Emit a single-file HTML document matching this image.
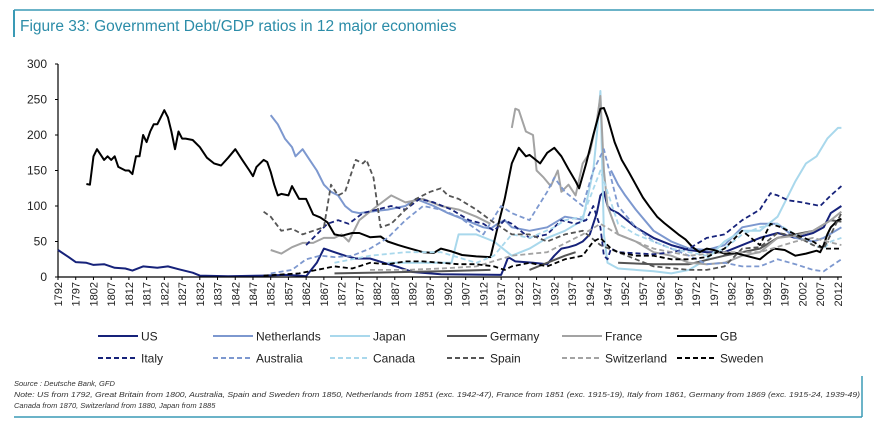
<!DOCTYPE html>
<html><head><meta charset="utf-8"><style>
body{margin:0;background:#fff;width:874px;height:427px;overflow:hidden;font-family:"Liberation Sans",sans-serif}
</style></head><body>
<svg id="c" width="874" height="427" xmlns="http://www.w3.org/2000/svg">
<line x1="14" y1="10" x2="874" y2="10" stroke="#3a9ab5" stroke-width="1.5"/>
<line x1="14" y1="10" x2="14" y2="37" stroke="#3a9ab5" stroke-width="2"/>
<text x="20" y="31" font-size="15.5" fill="#2b8ca8">Figure 33: Government Debt/GDP ratios in 12 major economies</text>
<g id="plot"></g>
<g id="legend"></g>
<text x="14" y="386" font-size="7.5" font-style="italic" fill="#333">Source : Deutsche Bank, GFD</text>
<text x="14" y="397" font-size="7.5" font-style="italic" fill="#333" textLength="846" lengthAdjust="spacingAndGlyphs">Note: US from 1792, Great Britain from 1800, Australia, Spain and Sweden from 1850, Netherlands from 1851 (exc. 1942-47), France from 1851 (exc. 1915-19), Italy from 1861, Germany from 1869 (exc. 1915-24, 1939-49)</text>
<text x="14" y="408" font-size="7.5" font-style="italic" fill="#333">Canada from 1870, Switzerland from 1880, Japan from 1885</text>
<line x1="862" y1="376" x2="862" y2="417" stroke="#3a9ab5" stroke-width="1.5"/>
<line x1="14" y1="417" x2="862" y2="417" stroke="#3a9ab5" stroke-width="1.5"/>
</svg>
<script>
const yTicks=[0,50,100,150,200,250,300];
const usYears=[1792,1795,1797,1800,1802,1805,1808,1811,1813,1816,1820,1823,1826,1830,1832,1840,1850,1856,1860,1862,1865,1867,1870,1873,1876,1880,1884,1888,1892,1900,1917,1918,1919,1921,1926,1930,1932,1934,1936,1938,1940,1942,1944,1945,1946,1947,1948,1950,1955,1960,1965,1970,1975,1980,1985,1990,1995,2000,2005,2008,2010,2013];
const usVals=[38,28,21,20,17,18,13,12,9,15,13,15,11,6,2,1,2,3,2,1,20,40,35,30,26,26,20,14,7,4,3,15,28,22,20,18,30,40,42,45,50,60,90,115,120,100,95,90,70,55,45,38,35,35,45,55,62,55,62,70,90,100];
const nlYears=[1852,1854,1856,1858,1859,1861,1863,1865,1867,1869,1871,1873,1875,1877,1880,1885,1890,1893,1898,1902,1907,1912,1914,1916,1918,1920,1925,1930,1935,1941,1942,1948,1950,1952,1955,1960,1965,1970,1975,1980,1985,1990,1995,2000,2005,2008,2013];
const nlVals=[228,215,195,183,170,180,165,150,130,120,115,100,92,90,92,95,100,110,100,90,80,70,68,75,80,70,65,70,85,80,null,150,130,115,95,65,50,40,38,45,70,75,75,55,50,55,70];
const jpYears=[1885,1895,1903,1905,1910,1915,1920,1925,1930,1935,1940,1943,1944,1945,1946,1947,1950,1960,1965,1970,1975,1980,1985,1990,1995,1998,2000,2003,2006,2009,2012,2013];
const jpVals=[20,20,20,60,60,50,30,40,55,65,80,150,200,262,60,20,12,8,5,10,25,50,65,65,85,115,135,160,170,195,210,210];
const deYears=[1870,1900,1914,1915,1925,1930,1935,1938,1939,1950,1960,1970,1980,1990,1995,2000,2005,2010,2013];
const deVals=[5,8,10,null,10,20,30,35,null,20,18,18,30,40,55,60,65,80,78];
const frYears=[1852,1855,1858,1861,1864,1867,1870,1872,1874,1877,1882,1886,1890,1895,1900,1905,1910,1914,1915,1920,1921,1922,1924,1926,1927,1929,1931,1933,1934,1936,1938,1940,1942,1944,1945,1946,1947,1950,1955,1960,1965,1970,1975,1980,1985,1990,1995,2000,2005,2010,2013];
const frVals=[38,33,42,48,48,55,55,60,50,80,100,115,105,110,100,95,85,75,null,210,237,235,205,200,150,140,128,150,120,130,115,160,175,220,255,150,100,60,50,35,30,20,18,20,30,35,55,58,65,80,92];
const gbYears=[1800,1801,1802,1803,1805,1806,1807,1808,1809,1811,1812,1813,1814,1815,1816,1817,1818,1819,1820,1821,1822,1823,1824,1825,1826,1827,1828,1830,1832,1834,1836,1838,1840,1842,1844,1846,1847,1848,1850,1851,1852,1853,1854,1855,1857,1858,1860,1862,1864,1866,1868,1870,1872,1875,1877,1880,1883,1885,1888,1890,1895,1898,1900,1903,1906,1910,1914,1916,1918,1920,1922,1924,1925,1928,1930,1932,1934,1936,1938,1939,1941,1943,1945,1946,1947,1949,1951,1953,1955,1957,1959,1961,1963,1965,1967,1969,1971,1973,1975,1977,1980,1983,1986,1990,1992,1994,1997,2000,2003,2006,2007,2008,2009,2010,2012,2013];
const gbVals=[131,130,170,180,165,170,165,170,155,150,150,145,170,170,200,190,205,215,215,225,235,225,205,180,205,195,195,193,183,168,160,157,168,180,165,150,142,155,165,162,148,130,115,117,115,128,110,110,88,84,77,60,58,62,62,56,57,50,45,42,35,34,40,36,31,29,28,70,110,160,182,170,172,160,175,182,170,152,135,125,160,200,237,238,225,190,165,148,130,112,98,85,76,68,60,53,42,35,40,38,33,34,30,25,33,40,38,30,33,37,35,45,60,70,80,82];
const itYears=[1862,1865,1868,1871,1874,1878,1882,1886,1890,1894,1898,1903,1908,1912,1915,1918,1920,1925,1930,1934,1938,1941,1943,1945,1946,1947,1948,1950,1960,1965,1970,1975,1980,1985,1990,1993,1995,1998,2002,2007,2010,2013];
const itVals=[45,60,75,80,75,90,95,100,95,110,105,95,80,75,65,80,75,55,60,80,75,80,100,70,30,25,40,35,32,35,40,55,60,80,95,118,115,108,105,100,115,128];
const auYears=[1852,1858,1862,1866,1870,1875,1880,1885,1890,1895,1900,1905,1912,1917,1920,1925,1930,1932,1935,1940,1943,1946,1950,1955,1960,1965,1970,1975,1980,1985,1990,1995,2000,2005,2008,2010,2013];
const auVals=[5,10,25,30,28,30,40,55,80,100,95,85,60,100,90,80,120,140,120,100,150,180,100,70,50,40,30,18,20,15,15,25,18,10,8,15,25];
const caYears=[1870,1880,1890,1900,1910,1915,1920,1925,1932,1935,1940,1945,1950,1955,1960,1965,1970,1975,1980,1985,1990,1995,2000,2005,2008,2010,2013];
const caVals=[20,30,35,35,20,30,60,55,70,80,85,150,75,60,50,40,35,30,40,60,70,75,60,45,40,50,55];
const esYears=[1850,1852,1855,1858,1861,1864,1867,1869,1871,1873,1876,1878,1879,1881,1883,1886,1890,1893,1897,1900,1902,1905,1910,1914,1920,1925,1930,1935,1940,1945,1950,1960,1970,1975,1980,1985,1990,1995,2000,2005,2008,2010,2013];
const esVals=[92,85,65,68,60,65,70,130,115,120,165,160,165,140,70,75,95,110,120,125,115,110,95,80,60,60,50,60,65,45,35,15,10,10,15,40,42,62,58,45,40,60,90];
const chYears=[1880,1890,1900,1910,1920,1930,1940,1945,1950,1960,1970,1980,1990,2000,2005,2013];
const chVals=[10,10,12,15,30,35,60,75,60,40,30,35,35,50,55,45];
const seYears=[1850,1860,1865,1870,1875,1880,1885,1890,1895,1900,1905,1910,1915,1918,1920,1925,1930,1935,1940,1943,1945,1948,1950,1955,1960,1965,1970,1975,1980,1985,1990,1993,1996,2000,2005,2008,2013];
const seVals=[2,5,10,15,12,20,18,22,22,20,18,18,15,10,15,20,15,25,30,50,55,40,35,30,30,25,25,28,40,65,45,75,70,60,50,40,40];

const seriesNames=["US","Netherlands","Japan","Germany","France","GB","Italy","Australia","Canada","Spain","Switzerland","Sweden"];
const seriesYears=[usYears,nlYears,jpYears,deYears,frYears,gbYears,itYears,auYears,caYears,esYears,chYears,seYears];
const seriesVals=[usVals,nlVals,jpVals,deVals,frVals,gbVals,itVals,auVals,caVals,esVals,chVals,seVals];
const colors=["#16227a","#7d98cf","#a9d8ec","#555555","#a3a3a3","#000000","#16227a","#7d98cf","#a9d8ec","#555555","#a3a3a3","#000000"];

const X0=58,Y0=277,PX=3.545,PY=0.71;
const xs=yr=>X0+(yr-1792)*PX;
const ys=v=>Y0-v*PY;
const NS="http://www.w3.org/2000/svg";
const plot=document.getElementById('plot');
function mk(t,a,p){const e=document.createElementNS(NS,t);for(const k in a)e.setAttribute(k,a[k]);(p||plot).appendChild(e);return e;}

yTicks.forEach(v=>{
  const t=mk('text',{x:47,y:ys(v)+4,'font-size':12,'text-anchor':'end',fill:'#222'});
  t.textContent=v;
  
  
  const l=mk('line',{x1:X0-3,x2:X0,y1:ys(v),y2:ys(v),stroke:'#000'});
  
  
});
const ya=mk('line',{x1:X0,x2:X0,y1:ys(300),y2:Y0,stroke:'#000','stroke-width':1.2});



for(let i=0;i<seriesNames.length;i++){
  let d='',pen=false;
  const yr=seriesYears[i],vv=seriesVals[i];
  for(let j=0;j<yr.length;j++){
    if(vv[j]===null){pen=false;continue;}
    d+=(pen?'L':'M')+xs(yr[j]).toFixed(1)+','+ys(vv[j]).toFixed(1);
    pen=true;
  }
  const p=mk('path',{d:d,fill:'none',stroke:colors[i],'stroke-width':i>=6?1.8:2,'stroke-linejoin':'round'});
  if(i>=6)p.setAttribute('stroke-dasharray','5,3');
  
  
}

const xa=mk('line',{x1:X0,x2:842,y1:Y0,y2:Y0,stroke:'#000','stroke-width':1.2});


for(let yr=1792;yr<=2012;yr+=5){
  const l=mk('line',{x1:xs(yr),x2:xs(yr),y1:Y0,y2:Y0+3,stroke:'#000'});
  
  
  const t=mk('text',{x:0,y:0,'font-size':11,'text-anchor':'end',fill:'#222',transform:`translate(${xs(yr)+4},${Y0+5}) rotate(-90)`});
  t.textContent=yr;
  
  
}

const leg=document.getElementById('legend');
const colX=[98,213,330,447,562,677];
for(let i=0;i<12;i++){
  const cx=colX[i%6],cy=i<6?336:358;
  const g=mk('g',{},leg);
  
  
  const l=mk('line',{x1:cx,x2:cx+40,y1:cy,y2:cy,stroke:colors[i],'stroke-width':2},g);
  if(i>=6)l.setAttribute('stroke-dasharray','5,3');
  const t=mk('text',{x:cx+43,y:cy+4.5,'font-size':12,fill:'#222'},g);
  t.textContent=seriesNames[i];
}
</script>
</body></html>
